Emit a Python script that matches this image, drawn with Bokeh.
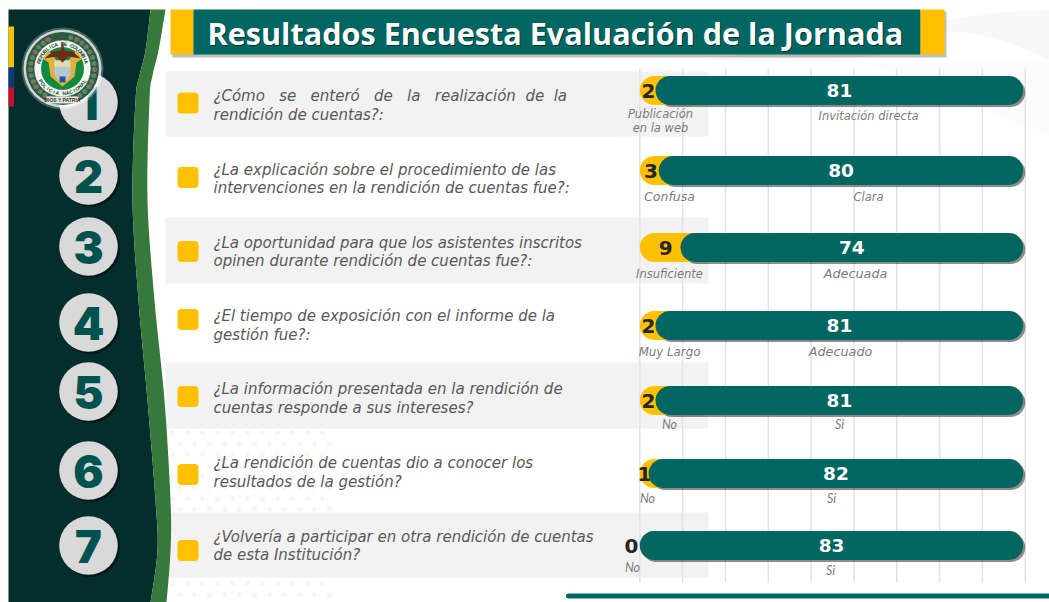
import math
import numpy as np
from bokeh.plotting import figure
from bokeh.models import Range1d
from bokeh.core.properties import value
from bokeh.embed import file_html
from bokeh.resources import INLINE

TITLE = "Resultados Encuesta Evaluación de la Jornada"
NB = "\u00a0"
G3 = " " + NB + NB
G2 = " " + NB
questions = [
    ["¿Cómo" + G3 + "se" + G3 + "enteró" + G3 + "de" + G3 + "la" + G3 + "realización" + G2 + "de" + G2 + "la", "rendición de cuentas?:"],
    ["¿La explicación sobre el procedimiento de las", "intervenciones en la rendición de cuentas fue?:"],
    ["¿La oportunidad para que los asistentes inscritos", "opinen durante rendición de cuentas fue?:"],
    ["¿El tiempo de exposición con el informe de la", "gestión fue?:"],
    ["¿La información presentada en la rendición de", "cuentas responde a sus intereses?"],
    ["¿La rendición de cuentas dio a conocer los", "resultados de la gestión?"],
    ["¿Volvería a participar en otra rendición de cuentas", "de esta Institución?"],
]
no_values = [2, 3, 9, 2, 2, 1, 0]
yes_values = [81, 80, 74, 81, 81, 82, 83]
# yellow length as it appears on the picture (units of the value scale)
no_drawn = [3.4, 4.1, 8.8, 3.4, 3.4, 1.9, 0]
no_label_pos = [1.9, 2.4, 5.6, 1.9, 1.9, 1.0, -1.8]
totals = [83] * 7
no_names = ["Publicación", "Confusa", "Insuficiente", "Muy Largo", "No", "No", "No"]
yes_names = ["Invitación directa", "Clara", "Adecuada", "Adecuado", "Si", "Si", "Si"]
grid_ticks = [0, 9.27, 18.54, 27.81, 37.08, 46.35, 55.62, 64.89, 74.16, 83.43]

# layout, in page pixels
row_y = [90, 170, 247, 325, 400, 473, 545]
circle_y = [102, 175, 246, 322, 391, 470, 545]
square_y = [102.5, 177, 251, 319, 396, 474, 550]
line_y = [(95, 114), (169, 187), (242, 260), (315, 334), (388, 407), (462, 481), (536, 554)]
bands = [(71, 136), (217, 283), (362, 428), (512, 577)]
no_name_xy = [(660, 113), (669, 196), (669, 273), (669, 351), (669, 424), (647, 498), (632, 567)]
yes_name_xy = [(868, 115), (868, 196), (855, 273), (840, 351), (839, 424), (831, 498), (830, 570)]
no_sizes = ["11.5px", "12.5px", "11.5px", "11.8px", "12.5px", "12.5px", "12.5px"]
yes_sizes = ["11.5px", "11.5px", "12.8px", "12.8px", "12.5px", "12.5px", "12.5px"]

DARK = "#032e2c"
TEAL = "#006661"
NUM = "#00524f"
YEL = "#ffc000"
BANDG = "#f2f2f2"
GREEN = "#37793b"
TXT = "#595959"
SUB = "#7b7b7b"

p = figure(width=1049, height=602, x_range=Range1d(0, 1049), y_range=Range1d(602, 0),
           toolbar_location=None, output_backend="svg", min_border=0)
p.xaxis.visible = False
p.yaxis.visible = False
p.grid.visible = False
p.outline_line_color = None
p.background_fill_color = "white"
p.border_fill_color = "white"
PX = 4.62
X0 = 639.3
p.extra_x_ranges["val"] = Range1d((0 - X0) / PX, (1049 - X0) / PX)


def smooth(pts, n=12):
    pts = [pts[0]] + pts + [pts[-1]]
    out = []
    for i in range(1, len(pts) - 2):
        p0, p1, p2, p3 = pts[i - 1], pts[i], pts[i + 1], pts[i + 2]
        for t in np.linspace(0, 1, n, endpoint=False):
            out.append(tuple(0.5 * (2 * p1[k] + (p2[k] - p0[k]) * t
                                    + (2 * p0[k] - 5 * p1[k] + 4 * p2[k] - p3[k]) * t ** 2
                                    + (3 * p1[k] - p0[k] - 3 * p2[k] + p3[k]) * t ** 3) for k in (0, 1)))
    out.append(pts[-1])
    return out


# faint background swoosh, dots
sw = smooth([(944, 20), (1000, 12), (1049, 10)]) + [(1049, 70)] + smooth([(1049, 60), (1000, 40), (944, 32), (880, 55), (700, 60)])
p.patch([a for a, b in sw], [b for a, b in sw], fill_color="#f8f8f8", line_color=None)
sw2 = smooth([(700, 62), (850, 60), (960, 100), (1049, 135)]) + [(1049, 62)]
p.patch([a for a, b in sw2], [b for a, b in sw2], fill_color="#fbfbfb", line_color=None)
dx, dy = [], []
for j, yy in enumerate(list(range(432, 512, 11)) + list(range(583, 602, 11))):
    for xx in range(172, 330, 15):
        dx.append(xx + (j % 2) * 7)
        dy.append(yy)
p.scatter(dx, dy, size=5, fill_color="#f6f6f6", line_color=None)

# row bands
p.quad([165] * 4, [708] * 4, [b[0] for b in bands], [b[1] for b in bands], fill_color=BANDG, line_color=None)

# left panel
left_edge = [(150, 9), (145, 50), (139, 75), (135, 100), (132, 200), (138, 300), (147, 400), (155, 500), (157, 550), (150, 602)]
right_edge = [(165, 9), (158, 50), (152, 75), (149, 100), (147, 200), (154, 300), (164, 400), (170, 500), (170, 550), (166, 602)]
L = smooth(left_edge)
R = smooth(right_edge)
p.patch([8] + [a for a, b in L] + [8], [9] + [b for a, b in L] + [602], fill_color=DARK, line_color=None)
g = L + R[::-1]
p.patch([a for a, b in g], [b for a, b in g], fill_color=GREEN, line_color=None)

# flag
p.quad(left=[8] * 3, right=[13.5] * 3, top=[26, 67, 87], bottom=[67, 87, 106],
       fill_color=["#f5c400", "#12357f", "#c8102e"], line_color=None)

# numbered circles
p.circle([90] * 7, [c + 2 for c in circle_y], radius=29.5, fill_color="#000000", fill_alpha=0.45, line_color=None)
p.circle([88] * 7, circle_y, radius=29.3, fill_color="#d9d9d9", line_color=None)
p.text([88] * 7, [c + 1 for c in circle_y], text=[str(i) for i in range(1, 8)], text_align="center",
       text_baseline="middle", text_font=value("Inter Black, Noto Sans Black, Lato Black, DejaVu Sans"), text_font_style="bold",
       text_font_size="45px", text_color=NUM)

# emblem
ex, ey = 62, 68
p.circle([ex], [ey], radius=41, fill_color="white", fill_alpha=0.25, line_color=None)
p.circle([ex], [ey], radius=39, fill_color="white", fill_alpha=0.75, line_color=None)
p.circle([ex], [ey], radius=36.5, fill_color="#2f5a3f", line_color=None)
a = np.radians(np.arange(-75, 255, 11))
p.scatter(ex + 32 * np.cos(a), ey + 32 * np.sin(a), size=5, fill_color="#5d8565", line_color=None)
a = np.radians([-60, -30, 0, 30, 60, 120, 150, 180, 210, 240])
p.scatter(ex + 33 * np.cos(a), ey + 33 * np.sin(a), size=2.6, fill_color="#c9434f", line_color=None)
p.circle([ex], [ey], radius=28.5, fill_color="#f2f5f1", line_color="#2a5a3a", line_width=0.6)
p.circle([ex], [ey], radius=21.5, fill_color="#128a3e", line_color=None)
wings = [(42, 58), (48, 50), (56, 60), (68, 60), (76, 50), (82, 58), (76, 62), (74, 76), (62, 86), (50, 76), (48, 62)]
p.patch([q[0] for q in wings], [q[1] for q in wings], fill_color="#e0b23a", line_color=None)
sh2 = [(54, 60), (70, 60), (70, 74), (66, 80), (62, 83), (58, 80), (54, 74)]
p.patch([q[0] for q in sh2], [q[1] for q in sh2], fill_color="#b8c9cf", line_color=None)
p.quad([54], [70], [60], [66], fill_color="#e8d9b0", line_color=None)
p.quad([59], [65], [76], [82], fill_color="#2a4fa0", line_color=None)
eagle = [(44, 58), (52, 51), (60, 50), (62, 41), (64, 50), (72, 51), (80, 58), (68, 56), (62, 62), (56, 56)]
p.patch([q[0] for q in eagle], [q[1] for q in eagle], fill_color="#6b2d1c", line_color=None)


def arc_text(s, a0, a1, r, flip=False):
    xs, ys, ang = [], [], []
    for i, ch in enumerate(s):
        t = math.radians(a0 + (a1 - a0) * i / (len(s) - 1))
        xs.append(ex + r * math.cos(t))
        ys.append(ey + r * math.sin(t))
        d = math.degrees(t)
        ang.append(math.radians(-(d + 90)) if not flip else math.radians(-(d - 90)))
    p.text(xs, ys, text=list(s), angle=ang, text_align="center", text_baseline="middle",
           text_font=value("Liberation Sans"), text_font_style="bold", text_font_size="5px", text_color="#1c3d2a")


arc_text("REPUBLICA DE COLOMBIA", -165, -15, 24.8)
arc_text("POLICIA NACIONAL", 150, 30, 24.8, flip=True)
p.quad([46], [78], [96], [103], fill_color="#e6e6e0", line_color=None)
p.text([62], [99.5], text=["DIOS Y PATRIA"], text_align="center", text_baseline="middle",
       text_font=value("Liberation Sans"), text_font_style="bold", text_font_size="5px", text_color="#333333")

# header
p.quad([172], [946], [11], [57], fill_color="#000000", fill_alpha=0.25, line_color=None)
p.quad([170], [193], [9], [54], fill_color=YEL, line_color=None)
p.quad([193], [920], [9], [54], fill_color=TEAL, line_color=None)
p.quad([920], [944], [9], [54], fill_color=YEL, line_color=None)
p.text([208], [33], text=[TITLE], text_baseline="middle", text_font=value("Open Sans"), text_font_style="bold",
       text_font_size="30.6px", text_color="#003330")
p.text([207], [32], text=[TITLE], text_baseline="middle", text_font=value("Open Sans"), text_font_style="bold",
       text_font_size="30.6px", text_color="white")

# squares
p.rect([187.5] * 7, square_y, width=21, height=21, fill_color=YEL, line_color=None, border_radius=4)

# question text
for q, (y1, y2) in zip(questions, line_y):
    p.text([213, 213], [y1, y2], text=q, text_baseline="middle", text_font=value("DejaVu Sans"),
           text_font_style="italic", text_font_size="15px", text_color=TXT)

# grid
p.segment(grid_ticks, [68] * 10, grid_ticks, [582] * 10, x_range_name="val", line_color="#e2e2e2", line_width=1.5)

# bars
R_U = 14.5 / PX
ends = [t - R_U for t in totals]
starts = [n + R_U for n in no_drawn]
sh_off = 2 / PX
p.segment([s + sh_off for s in starts], [y + 2 for y in row_y], [e + sh_off for e in ends], [y + 2 for y in row_y],
          x_range_name="val", line_color="#000000", line_alpha=0.45, line_width=29, line_cap="round")
p.segment([R_U] * 7, row_y, ends, row_y, x_range_name="val", line_color=YEL, line_width=29, line_cap="round")
p.segment(starts, row_y, ends, row_y, x_range_name="val", line_color=TEAL, line_width=29, line_cap="round")

# value labels
p.text(no_label_pos, row_y, text=[str(v) for v in no_values], x_range_name="val", text_align="center",
       text_baseline="middle", text_font=value("DejaVu Sans"), text_font_style="bold", text_font_size="20px",
       text_color="#262626")
p.text([(n + t) / 2 for n, t in zip(no_drawn, totals)], row_y, text=[str(v) for v in yes_values], x_range_name="val",
       text_align="center", text_baseline="middle", text_font=value("DejaVu Sans"), text_font_style="bold",
       text_font_size="18.5px", text_color="white")

# category names
sub = dict(text_align="center", text_baseline="middle", text_font_style="italic", text_color=SUB)
for i in range(7):
    fam = "Lato" if i >= 4 else "DejaVu Sans"
    p.text([no_name_xy[i][0]], [no_name_xy[i][1]], text=[no_names[i]], text_font=value(fam), text_font_size=no_sizes[i], **sub)
    p.text([yes_name_xy[i][0]], [yes_name_xy[i][1]], text=[yes_names[i]], text_font=value(fam), text_font_size=yes_sizes[i], **sub)
p.text([660], [127], text=["en la web"], text_font=value("DejaVu Sans"), text_font_size="11.5px", **sub)

# bottom rule
p.segment([568], [595.5], [1049], [595.5], line_color=TEAL, line_width=5, line_cap="round")

open("out.html", "w").write(file_html(p, INLINE))
